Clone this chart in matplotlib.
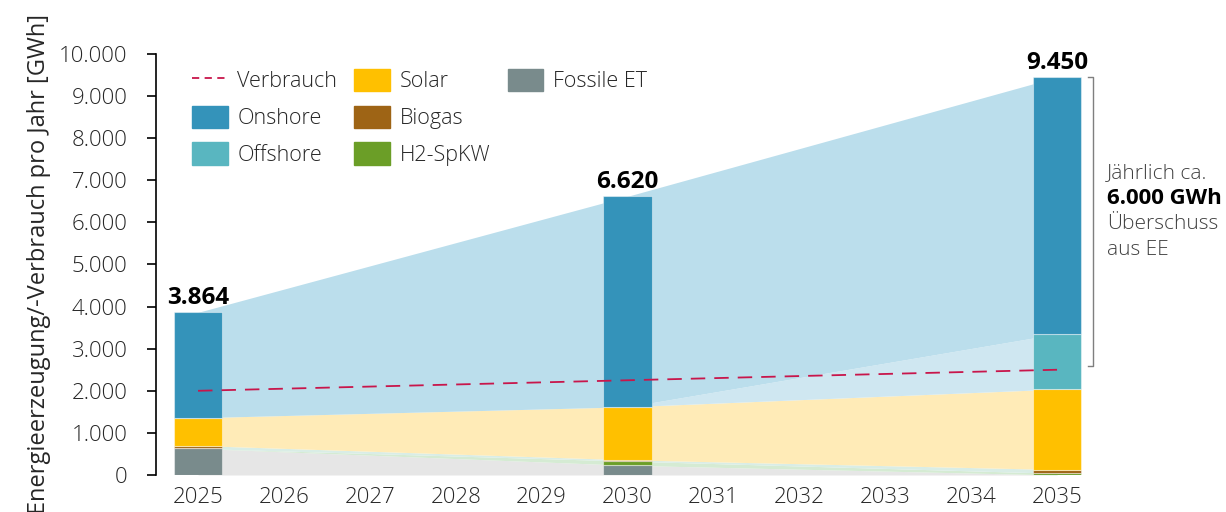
import matplotlib
matplotlib.use('Agg')
import matplotlib.pyplot as plt
from matplotlib.patches import Patch
from matplotlib.lines import Line2D
from matplotlib.ticker import FuncFormatter
import numpy as np

plt.rcParams['font.family'] = ['Open Sans', 'DejaVu Sans']
plt.rcParams['font.weight'] = 'light'

# data
bar_years = [2025, 2030, 2035]
fossil = [630, 230, 0]
h2 = [0, 100, 40]
biogas = [70, 30, 90]
solar = [660, 1260, 1910]
offshore = [0, 0, 1310]
onshore = [2504, 5000, 6100]
totals = [3864, 6620, 9450]
verbrauch_years = [2025, 2035]
verbrauch = [2000, 2500]
all_years = list(range(2025, 2036))

series = [('Fossile ET', fossil, '#798B8C', '#E6E6E6'),
          ('H2-SpKW', h2, '#6B9E27', '#D5EBD3'),
          ('Biogas', biogas, '#9E6415', '#D9EDE6'),
          ('Solar', solar, '#FFC000', '#FFEBB7'),
          ('Offshore', offshore, '#59B6C0', '#CFE7F1'),
          ('Onshore', onshore, '#3493BA', '#BBDEEC')]

fig = plt.figure(figsize=(12.26, 5.12), dpi=100)
ax = fig.add_axes([0.1272, 0.0723, 0.7630, 0.8222])

# light areas between the bars
bottom = np.zeros(len(bar_years))
for name, vals, col, light in series:
    vals = np.array(vals, dtype=float)
    ax.fill_between(bar_years, bottom, bottom + vals, color=light, linewidth=0, zorder=1)
    bottom = bottom + vals

# bars
bottom = np.zeros(len(bar_years))
for name, vals, col, light in series:
    vals = np.array(vals, dtype=float)
    ax.bar(bar_years, vals, width=0.56, bottom=bottom, color=col,
           edgecolor=(1, 1, 1, 0.45), linewidth=0.8, zorder=2)
    bottom = bottom + vals

for x, t in zip(bar_years, totals):
    ax.text(x, t + 60, f'{t:,}'.replace(',', '.'), ha='center', va='bottom',
            fontsize=17.5, fontweight='bold', color='black', zorder=4, clip_on=False)

ax.plot(verbrauch_years, verbrauch, color='#C8164B', linestyle=(0, (8, 5)), linewidth=1.3, zorder=3)

# bracket for the surplus
bx = 2035.42
ax.plot([bx - 0.06, bx, bx, bx - 0.06], [totals[2], totals[2], 2590, 2590],
        color='#7F7F7F', linewidth=1.0, clip_on=False, zorder=3)
tx = 1107 / 1226
fig.text(tx, 1 - 173 / 512, 'Jährlich ca.', fontsize=15, color='#404040', va='center')
fig.text(tx, 1 - 198 / 512, '6.000 GWh', fontsize=16, fontweight='bold', color='black', va='center')
fig.text(tx, 1 - 224 / 512, 'Überschuss', fontsize=15, color='#404040', va='center')
fig.text(tx, 1 - 250 / 512, 'aus EE', fontsize=15, color='#404040', va='center')

ax.set_xlim(2024.51, 2035.4)
ax.set_ylim(0, 10000)
ax.set_xticks(all_years)
ax.set_yticks(range(0, 10001, 1000))
ax.yaxis.set_major_formatter(FuncFormatter(lambda v, p: f'{int(v):,}'.replace(',', '.')))
ax.tick_params(axis='y', length=6.5, width=1.2, pad=14, labelsize=16, labelcolor='#262626')
ax.tick_params(axis='x', length=0, pad=9, labelsize=16, labelcolor='#262626')
for s in ['top', 'right', 'bottom']:
    ax.spines[s].set_visible(False)
ax.spines['left'].set_linewidth(1.2)
ax.set_ylabel('Energieerzeugung/-Verbrauch pro Jahr [GWh]', fontsize=17, color='#262626', labelpad=6)

blank = Patch(color='none')
handles = [Line2D([0], [0], color='#C8164B', linestyle=(0, (4, 3)), linewidth=1.3),
           Patch(color='#3493BA'), Patch(color='#59B6C0'),
           Patch(color='#FFC000'), Patch(color='#9E6415'), Patch(color='#6B9E27'),
           Patch(color='#798B8C'), blank, blank]
labels = ['Verbrauch', 'Onshore', 'Offshore', 'Solar', 'Biogas', 'H2-SpKW', 'Fossile ET', '', '']
leg = ax.legend(handles, labels, ncol=3, loc='upper left', bbox_to_anchor=(0.018, 1.01),
                frameon=False, fontsize=15.5, handlelength=1.65, handleheight=1.2,
                handletextpad=0.45, columnspacing=0.8, labelspacing=0.62)
for t in leg.get_texts():
    t.set_color('#262626')

fig.savefig('out.png', dpi=100)
